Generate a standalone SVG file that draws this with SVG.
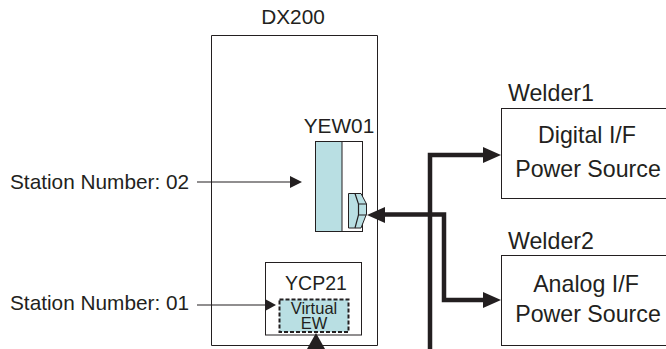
<svg xmlns="http://www.w3.org/2000/svg" width="666" height="349" viewBox="0 0 666 349">
<style>
text{font-family:"Liberation Sans",Arial,sans-serif;font-size:20.800px;fill:#231f20}
.m{text-anchor:middle}
.w{font-size:23.200px}
.v{font-size:16.500px}
.box{fill:#fff;stroke:#231f20;stroke-width:1}
.teal{fill:#b9dfe3;stroke:#231f20;stroke-width:1}
.thin{fill:none;stroke:#231f20;stroke-width:1.200}
.thick{fill:none;stroke:#231f20;stroke-width:4.500}
.head{fill:#231f20}
</style>
<rect width="666" height="349" fill="#fff"/>
<g id="dx200">
<path class="box" d="M377.500 345.500H211.500V35.500H377.500Z"/>
<text class="m" x="293" y="24">DX200</text>
</g>
<g id="yew01">
<text class="m" x="339" y="133">YEW01</text>
<rect class="box" x="315.500" y="141.500" width="47" height="90"/>
<rect class="teal" x="315.500" y="141.500" width="26.500" height="90"/>
<path class="teal" d="M348.500 193.500H361L366.500 204V214L361 228H348.500Z"/>
<path class="thin" d="M355 193.500L358.500 204V215L355 228M358.500 204H366.500M358.500 215H366.500"/>
</g>
<g id="ycp21">
<rect class="box" x="265.500" y="262.500" width="96" height="72.500"/>
<text class="m" x="316" y="290" style="font-size:19.500px">YCP21</text>
<rect x="279.500" y="299.500" width="69" height="32.500" fill="#b9dfe3" stroke="#231f20" stroke-width="2" stroke-dasharray="4 2"/>
<text class="m v" x="314" y="314">Virtual</text>
<text class="m v" x="314" y="329">EW</text>
</g>
<g id="welder1">
<text class="w" x="508" y="101">Welder1</text>
<rect class="box" x="501.500" y="108.500" width="170" height="90"/>
<text class="m w" x="587" y="143">Digital I/F</text>
<text class="m w" x="588" y="177">Power Source</text>
</g>
<g id="welder2">
<text class="w" x="508" y="249">Welder2</text>
<rect class="box" x="501.500" y="255.500" width="170" height="90"/>
<text class="m w" x="586" y="292">Analog I/F</text>
<text class="m w" x="588" y="322">Power Source</text>
</g>
<g id="labels">
<text x="10" y="189">Station Number: 02</text>
<text x="10" y="310">Station Number: 01</text>
</g>
<g id="connectors">
<path class="thin" d="M197 182H290"/>
<polygon class="head" points="302,182 290,176 290,188"/>
<path class="thin" d="M197 305H265"/>
<polygon class="head" points="276,305 265,299 265,311"/>
<path class="thick" d="M430 349V155H485"/>
<polygon class="head" points="501,155 483,147 483,163"/>
<path class="thick" d="M385 214.500H444V300H485"/>
<polygon class="head" points="367,215 385,207 385,223"/>
<polygon class="head" points="501,300 483,292 483,308"/>
<polygon class="head" points="316,333 307,349 325,349"/>
</g>
</svg>
